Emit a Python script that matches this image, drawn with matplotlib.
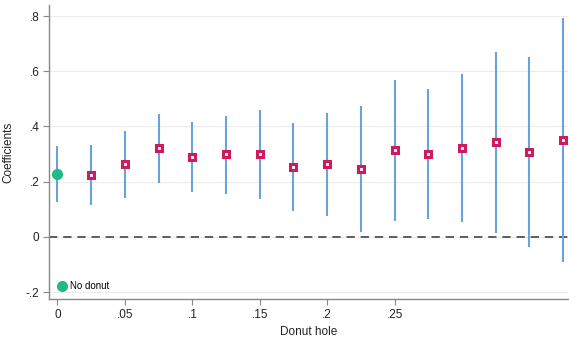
import matplotlib
matplotlib.use("Agg")
import matplotlib.pyplot as plt

plt.rcParams['font.family'] = ['Liberation Sans', 'DejaVu Sans']

# Baseline estimate (no donut)
base_x = [0.0]
base_coef = [0.228]
base_lo = [0.128]
base_hi = [0.331]

# Estimates by donut hole size
donut = [0.025, 0.05, 0.075, 0.1, 0.125, 0.15, 0.175, 0.2, 0.225,
         0.25, 0.275, 0.3, 0.325, 0.35, 0.375]
coef = [0.226, 0.264, 0.322, 0.289, 0.300, 0.300, 0.255, 0.264, 0.246,
        0.314, 0.301, 0.321, 0.342, 0.308, 0.351]
ci_lo = [0.116, 0.140, 0.197, 0.161, 0.156, 0.137, 0.095, 0.074, 0.017,
         0.059, 0.065, 0.055, 0.013, -0.035, -0.092]
ci_hi = [0.333, 0.385, 0.446, 0.415, 0.438, 0.458, 0.412, 0.448, 0.476,
         0.569, 0.535, 0.591, 0.671, 0.651, 0.792]

xticks = [0, 0.05, 0.1, 0.15, 0.2, 0.25]
xticklabels = ['0', '.05', '.1', '.15', '.2', '.25']
yticks = [-0.2, 0, 0.2, 0.4, 0.6, 0.8]
yticklabels = ['-.2', '0', '.2', '.4', '.6', '.8']

ci_color = '#6aa2dc'
sq_color = '#d01a5e'
green = '#1dbb86'

fig = plt.figure(figsize=(5.69, 3.41), dpi=100)
ax = fig.add_axes([0.0861, 0.1232, 0.912, 0.862])

for y in yticks:
    ax.axhline(y, color='#ececec', lw=0.8, zorder=0)
ax.axhline(0, color='#444444', lw=1.2, ls=(0, (5, 3.5)), zorder=1)

ax.vlines(base_x, base_lo, base_hi, color=ci_color, lw=1.5, zorder=2)
ax.vlines(donut, ci_lo, ci_hi, color=ci_color, lw=1.5, zorder=2)

ax.plot(base_x, base_coef, 'o', color=green, ms=7, mec=green, zorder=3,
        label='No donut', clip_on=False)
ax.plot(donut, coef, 's', mfc='#fbf3f6', mec=sq_color, mew=2.2, ms=4.8,
        ls='none', zorder=3, clip_on=False)

ax.set_xlim(-0.0063, 0.3785)
ax.set_ylim(-0.225, 0.84)
ax.set_xticks(xticks)
ax.set_xticklabels(xticklabels)
ax.set_yticks(yticks)
ax.set_yticklabels(yticklabels)

for s in ['top', 'right']:
    ax.spines[s].set_visible(False)
for s in ['left', 'bottom']:
    ax.spines[s].set_color('#888888')
    ax.spines[s].set_linewidth(1.0)
ax.tick_params(axis='both', colors='#888888', labelcolor='#222222',
               labelsize=8.5, length=4, width=0.8, pad=3)

ax.set_ylabel('Coefficients', fontsize=8.5, color='#222222', labelpad=8)
ax.set_xlabel('Donut hole', fontsize=8.5, color='#222222', labelpad=4)

leg = ax.legend(loc='lower left', frameon=False, fontsize=7, handletextpad=0.4,
                borderaxespad=0.4, handlelength=1.0, markerscale=1.0)

fig.savefig('out.png', dpi=100)
